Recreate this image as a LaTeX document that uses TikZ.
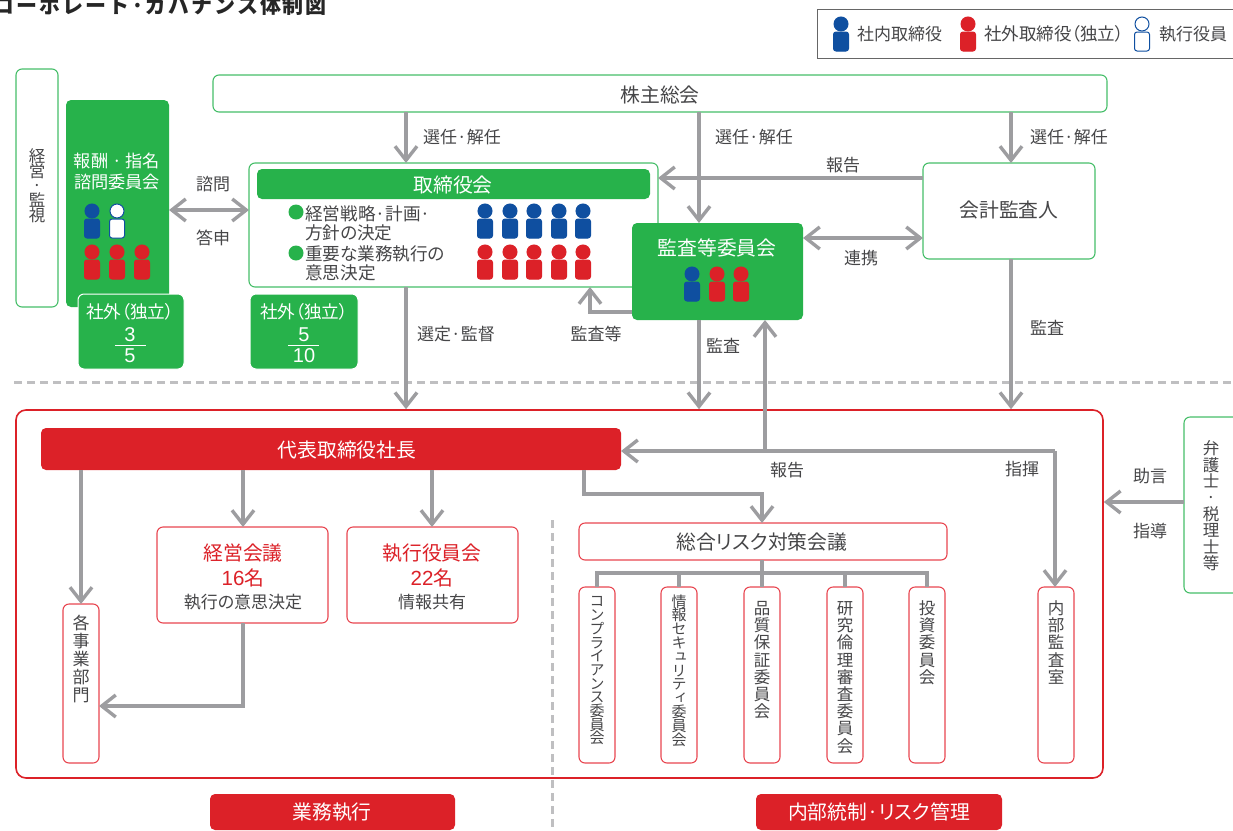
\documentclass[tikz,border=0pt]{standalone}
\usepackage{fontspec}
\setmainfont[RawFeature={+palt}]{Noto Sans CJK JP}
\newfontfamily\vjp[RawFeature={+vert}]{Noto Sans CJK JP}
\newfontfamily\titlefont[LetterSpace=9]{Noto Sans CJK JP}
\newfontfamily\lib{Liberation Sans}
\usetikzlibrary{arrows.meta}
\definecolor{gr}{RGB}{39,178,75}
\definecolor{grl}{RGB}{70,190,105}
\definecolor{rd}{RGB}{220,33,40}
\definecolor{rdl}{RGB}{232,70,80}
\definecolor{bl}{RGB}{15,79,160}
\definecolor{ag}{RGB}{157,157,160}
\definecolor{tx}{RGB}{70,70,72}
\makeatletter
% vertical stack: pitch, size, characters
\newcommand\VT[3]{\vbox{\offinterlineskip\fontsize{#2}{#2}\vjp\color{tx}\@tfor\vc:=#3\do{\hbox to #2pt{\hss\vrule height #1pt depth 0pt width 0pt\smash{\vc}\hss}}}}
\makeatother
\newcommand\fs[1]{\fontsize{#1}{#1}\selectfont}
\newcommand\bx[7][]{%
  \pgfmathsetmacro\bcx{(#4+#6)/2}\pgfmathsetmacro\bcy{(#5+#7)/2}%
  \pgfmathsetmacro\bw{#6-#4}\pgfmathsetmacro\bh{#7-#5}%
  \node[#2,minimum width=\bw pt,minimum height=\bh pt,#1] (#3) at (\bcx,\bcy) {};}
\newcommand\person[4]{%
  \fill[#3,draw=#4,line width=1pt] (#1,#2) circle (7);
  \draw[#4,fill=#3,line width=1pt,rounded corners=2.5pt] ({#1-7.5},{#2+8}) rectangle ({#1+7.5},{#2+27});}
\tikzset{
  gbox/.style={draw=grl,line width=1.1pt,fill=white,rounded corners=6pt,inner sep=0pt,outer sep=0pt},
  gfill/.style={draw=none,fill=gr,rounded corners=5pt,inner sep=0pt,outer sep=0pt},
  wgfill/.style={draw=white,line width=1pt,fill=gr,rounded corners=6pt,inner sep=0pt,outer sep=0pt},
  rbox/.style={draw=rdl,line width=1.1pt,fill=white,rounded corners=6pt,inner sep=0pt,outer sep=0pt},
  rfill/.style={draw=none,fill=rd,rounded corners=5pt,inner sep=0pt,outer sep=0pt},
  txt/.style={text=tx,font=\fs{17},inner sep=0pt,yshift=-.7pt},
  big/.style={text=tx,font=\fs{19.8},inner sep=0pt,yshift=-.7pt},
  wtxt/.style={text=white,font=\fs{17.6},inner sep=0pt,yshift=-.7pt},
  wbig/.style={text=white,font=\fs{19.8},inner sep=0pt,yshift=-.7pt},
  wnum/.style={text=white,font=\fs{20}\lib,inner sep=0pt},
  rtxt/.style={text=rd,font=\fs{19.8},inner sep=0pt,yshift=-.7pt},
  conn/.style={draw=ag,line width=3.4pt},
  arr/.style={conn,-{Straight Barb[length=14pt,width=22pt]}},
  darr/.style={conn,{Straight Barb[length=14pt,width=22pt]}-{Straight Barb[length=14pt,width=22pt]}},
  dashline/.style={draw=ag!65,line width=3pt,dash pattern=on 8pt off 5pt}
}
\begin{document}
\begin{tikzpicture}[x=1pt,y=-1pt]
\clip (0,0) rectangle (1233,830);
% title
\node[anchor=east,text=black!85,font=\fs{21}\titlefont\bfseries,inner sep=0pt] (title) at (327,5) {コーポレート·ガバナンス体制図};
% legend
\bx[rounded corners=0pt]{draw=black!60,line width=1pt,fill=white}{legend}{817}{9}{1245}{58}
\person{841}{24}{bl}{bl}
\node[txt,anchor=west] (lg1) at (857,33) {社内取締役};
\person{968}{24}{rd}{rd}
\node[txt,anchor=west,font=\fs{17.5}] (lg2) at (984,33) {社外取締役（独立）};
\person{1142}{24}{white}{bl}
\node[txt,anchor=west] (lg3) at (1159,33) {執行役員};
% dashed separators
\coordinate (dl) at (14,382); \coordinate (dr) at (1233,382);
\coordinate (dt) at (552,520); \coordinate (db) at (552,828);
% top boxes
\bx{gbox}{keiei}{16}{69}{58}{307}
\node[inner sep=0pt,anchor=north] (keieit) at (37,147) {\VT{14.9}{16.5}{経営·監視}};
\bx{gfill}{hoshu}{66}{100}{169}{307}
\node[wtxt,font=\fs{17.2}] (h1) at (117,160) {報酬 · 指名};
\node[wtxt,font=\fs{17.2}] (h2) at (117,181) {諮問委員会};
\person{92}{211}{bl}{bl}
\person{117}{211}{white}{bl}
\person{92}{252}{rd}{rd}
\person{117}{252}{rd}{rd}
\person{142}{252}{rd}{rd}
\bx{wgfill}{s1}{78}{294}{184}{369}
\node[wtxt] (s1t) at (130,311) {社外（独立）};
\node[wnum] (s1n) at (130,335) {3};
\coordinate (s1a) at (115,345); \coordinate (s1b) at (146,345);
\draw[white,line width=.8pt] (s1a) -- (s1b);
\node[wnum] (s1d) at (130,356) {5};
\bx{wgfill}{s2}{250}{294}{358}{369}
\node[wtxt] (s2t) at (304,311) {社外（独立）};
\node[wnum] (s2n) at (304,335) {5};
\coordinate (s2a) at (288,345); \coordinate (s2b) at (319,345);
\draw[white,line width=.8pt] (s2a) -- (s2b);
\node[wnum] (s2d) at (304,356) {10};
\bx{gbox}{kabu}{213}{75}{1107}{112}
\node[big] (kabut) at (660,94) {株主総会};
\bx{gbox}{board}{249}{163}{658}{287}
\bx{gfill}{boardh}{257}{169}{650}{199}
\node[wbig] (boardt) at (453,184) {取締役会};
\fill[gr] (296,212) circle (7.5);
\node[txt,anchor=west,font=\fs{17.6}] (b1) at (305,213) {経営戦略·計画·};
\node[txt,anchor=west,font=\fs{17.6}] (b2) at (305,232) {方針の決定};
\fill[gr] (296,253) circle (7.5);
\node[txt,anchor=west,font=\fs{17.6}] (b3) at (305,253) {重要な業務執行の};
\node[txt,anchor=west,font=\fs{17.6}] (b4) at (305,272) {意思決定};
\foreach \px in {485,510,534,559,583}{
  \person{\px}{211}{bl}{bl}
  \person{\px}{252}{rd}{rd}
}
\bx{gbox}{audit}{923}{163}{1095}{259}
\node[big] (auditt) at (1009,209) {会計監査人};
\bx{gfill}{cmte}{632}{223}{803}{320}
\node[wbig] (cmtet) at (717,247) {監査等委員会};
\person{692}{274}{bl}{bl}
\person{717}{274}{rd}{rd}
\person{741}{274}{rd}{rd}
% lower frame
\bx[rounded corners=10pt]{draw=rd,line width=1.6pt,fill=none}{frame}{16}{410}{1103}{778}
\bx{rfill}{ceo}{41}{428}{621}{470}
\node[wbig] (ceot) at (347,449) {代表取締役社長};
\bx{rbox}{mgmt}{157}{527}{328}{623}
\node[rtxt] (m1) at (243,552) {経営会議};
\node[rtxt] (m2) at (243,577) {{\lib\fontsize{20.5}{20.5}\selectfont 16}名};
\node[txt] (m3) at (243,601) {執行の意思決定};
\bx{rbox}{exec}{347}{527}{518}{623}
\node[rtxt] (e1) at (432,552) {執行役員会};
\node[rtxt] (e2) at (432,577) {{\lib\fontsize{20.5}{20.5}\selectfont 22}名};
\node[txt] (e3) at (432,601) {情報共有};
\bx{rbox}{dept}{63}{604}{99}{763}
\node[inner sep=0pt,anchor=north] (deptt) at (81,611) {\VT{18}{17}{各事業部門}};
\bx{rbox}{risk}{579}{523}{947}{560}
\node[big] (riskt) at (762,541) {総合リスク対策会議};
\bx{rbox}{c1}{579}{587}{615}{763}
\node[inner sep=0pt,anchor=north] (c1t) at (597,593) {\VT{13.7}{15}{コンプライアンス委員会}};
\bx{rbox}{c2}{661}{587}{697}{763}
\node[inner sep=0pt,anchor=north] (c2t) at (679,593) {\VT{13.8}{15}{情報セキュリティ委員会}};
\bx{rbox}{c3}{744}{587}{780}{763}
\node[inner sep=0pt,anchor=north] (c3t) at (762,597) {\VT{17.2}{16.5}{品質保証委員会}};
\bx{rbox}{c4}{827}{587}{863}{763}
\node[inner sep=0pt,anchor=north] (c4t) at (845,597) {\VT{17.2}{16.5}{研究倫理審査委員会}};
\bx{rbox}{c5}{909}{587}{945}{763}
\node[inner sep=0pt,anchor=north] (c5t) at (927,597) {\VT{17.2}{16.5}{投資委員会}};
\bx{rbox}{naibu}{1038}{587}{1074}{763}
\node[inner sep=0pt,anchor=north] (naibut) at (1056,597) {\VT{17.2}{16.5}{内部監査室}};
\bx{gbox}{bengo}{1184}{417}{1260}{593}
\node[inner sep=0pt,anchor=north] (bengot) at (1211,438) {\VT{16.4}{16.5}{弁護士·税理士等}};
\bx{rfill}{gyomu}{210}{794}{455}{830}
\node[wbig] (gyomut) at (332,811) {業務執行};
\bx{rfill}{tosei}{756}{794}{1002}{830}
\node[wbig] (toseit) at (879,811) {内部統制·リスク管理};
% helper coordinates
\coordinate (x81) at (81,0); \coordinate (x243) at (243,0); \coordinate (x432) at (432,0);
\coordinate (x406) at (406,0); \coordinate (x699) at (699,0); \coordinate (x1011) at (1011,0);
\coordinate (x765) at (765,0); \coordinate (x1055) at (1055,0); \coordinate (x584) at (584,0);
\coordinate (x590) at (590,0); \coordinate (x762) at (762,0);
\coordinate (y178) at (0,178); \coordinate (y238) at (0,238); \coordinate (y210) at (0,210);
\coordinate (y312) at (0,312); \coordinate (y451) at (0,451); \coordinate (y494) at (0,494);
\coordinate (y573) at (0,573); \coordinate (y706) at (0,706); \coordinate (y502) at (0,502);
% dashed lines
\draw[dashline] (dl) -- (dr);
\draw[dashline] (dt) -- (db);
% connectors
\draw[arr] (kabu.south -| x406) -- (board.north -| x406);
\draw[arr] (kabu.south -| x699) -- (cmte.north -| x699);
\draw[arr] (kabu.south -| x1011) -- (audit.north -| x1011);
\draw[arr] (audit.west |- y178) -- (board.east |- y178);
\draw[darr] (cmte.east |- y238) -- (audit.west |- y238);
\draw[darr] (hoshu.east |- y210) -- (board.west |- y210);
\draw[arr] (board.south -| x406) -- (frame.north -| x406);
\draw[arr] (cmte.west |- y312) -- (x590 |- y312) -- (board.south -| x590);
\draw[arr] (cmte.south -| x699) -- (frame.north -| x699);
\draw[arr] (audit.south -| x1011) -- (frame.north -| x1011);
\draw[arr] (x1055 |- y451) -- (ceo.east |- y451);
\draw[arr] (x1055 |- y451) -- (naibu.north -| x1055);
\draw[arr] (x765 |- y451) -- (cmte.south -| x765);
\draw[arr] (ceo.south -| x81) -- (dept.north -| x81);
\draw[arr] (ceo.south -| x243) -- (mgmt.north -| x243);
\draw[arr] (ceo.south -| x432) -- (exec.north -| x432);
\draw[arr] (ceo.south -| x584) -- (x584 |- y494) -- (x762 |- y494) -- (risk.north -| x762);
\draw[arr] (mgmt.south -| x243) -- (x243 |- y706) -- (dept.east |- y706);
\draw[arr] (bengo.west |- y502) -- (frame.east |- y502);
\draw[conn] (risk.south -| x762) -- (c3.north -| x762);
\draw[conn] (c1.north) -- (c1 |- y573) -- (c5 |- y573) -- (c5.north);
\draw[conn] (c2.north) -- (c2 |- y573);
\draw[conn] (c4.north) -- (c4 |- y573);
% connector labels
\node[txt] (l1) at (462,136) {選任·解任};
\node[txt] (l2) at (754,136) {選任·解任};
\node[txt] (l3) at (1069,136) {選任·解任};
\node[txt] (l4) at (843,164) {報告};
\node[txt] (l5) at (861,257) {連携};
\node[txt] (l6) at (213,183) {諮問};
\node[txt] (l7) at (213,237) {答申};
\node[txt] (l8) at (456,333) {選定·監督};
\node[txt] (l9) at (596,333) {監査等};
\node[txt] (l10) at (723,345) {監査};
\node[txt] (l11) at (1047,327) {監査};
\node[txt] (l12) at (787,469) {報告};
\node[txt] (l13) at (1022,468) {指揮};
\node[txt] (l14) at (1150,475) {助言};
\node[txt] (l15) at (1150,530) {指導};
\end{tikzpicture}
\end{document}
